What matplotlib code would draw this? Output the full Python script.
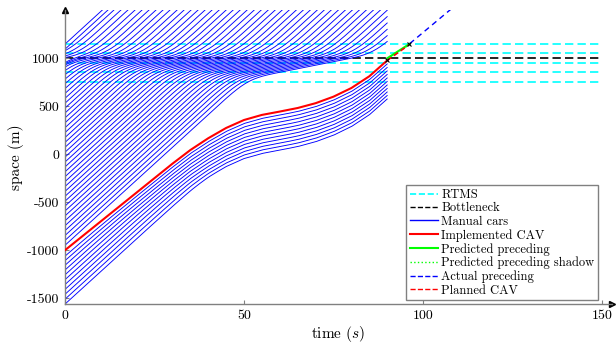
import numpy as np
import matplotlib
matplotlib.use('Agg')
import matplotlib.pyplot as plt
from matplotlib.lines import Line2D

plt.rcParams['font.family'] = 'serif'
plt.rcParams['font.serif'] = ['cmr10', 'DejaVu Serif']
plt.rcParams['mathtext.fontset'] = 'cm'
plt.rcParams['axes.unicode_minus'] = False

# ---- values ----
# implemented CAV (time s, position m)
cav_t = [0, 10, 20, 25, 30, 35, 40, 45, 50, 55, 60, 65, 70, 75, 80, 85, 90]
cav_x = [-1000, -700, -400, -250, -100, 42, 165, 272, 355, 408, 443, 480, 530, 598, 688, 810, 975]

# short segments after t = 90
pred_t = [90, 96.2]
pred_x = [997, 1146]
shadow_t = [90, 96.2]
shadow_x = [990, 1140]
actual_t = [96.3, 108.5]
actual_x = [1150, 1530]
plan_t = [90, 96]
plan_x = [975, 1135]

rtms_x = [750, 850, 950, 1050, 1150]
bottleneck_x = 1000

# manual cars
car_spacing = 51.0     # spacing in free flow at t = 0
n_free_ahead = 38      # free cars between the CAV and the queue
queue_x0 = [965, 978, 991, 1004, 1017, 1030, 1043]   # queued at t = 0
past_x0 = [1092, 1145]                                # already past the bottleneck
n_behind = 11          # cars behind the CAV
v_free = 34.0          # free speed (m/s)
v_zone = 7.3           # speed through the bottleneck
zone = (1000.0, 1045.0)
follow_gap = 36.5      # spacing of the platoon behind the CAV
t_end = 90

# ---- cars ahead of the CAV: Newell car following with a slow zone ----
D_JAM, TAU = 7.0, 1.0
dt = 0.05
lag = int(round(TAU / dt))
t = np.arange(0, t_end + dt / 2, dt)

free_x0 = cav_x[0] + car_spacing * np.arange(1, n_free_ahead + 1)
x = np.sort(np.concatenate([free_x0, queue_x0, past_x0]))[::-1].astype(float)
hist = np.empty((len(t), len(x)))
hist[0] = x
for i in range(1, len(t)):
    vmax = np.where((x >= zone[0]) & (x < zone[1]), v_zone, v_free)
    x_new = x + vmax * dt
    lead = hist[max(i - lag, 0), :-1] - D_JAM
    x_new[1:] = np.minimum(x_new[1:], lead)
    x = np.maximum(x_new, x)
    hist[i] = x


def smooth(y, sigma):
    n = int(4 * sigma)
    k = np.exp(-0.5 * (np.arange(-n, n + 1) / sigma) ** 2)
    k /= k.sum()
    left = y[0] - (y[1] - y[0]) * np.arange(n, 0, -1)
    right = y[-1] + (y[-1] - y[-2]) * np.arange(1, n + 1)
    return np.convolve(np.concatenate([left, y, right]), k, mode='valid')


ahead = [smooth(hist[:, j], 3.5 / dt) for j in range(hist.shape[1])]

# cars behind the CAV: free speed until they close up on the CAV
cav_at = np.interp(t, cav_t, cav_x)
behind = []
for k in range(1, n_behind + 1):
    free = cav_x[0] - k * car_spacing + v_free * t
    follow = cav_at - k * follow_gap
    L = 25.0
    behind.append(-L * np.logaddexp(-free / L, -follow / L))

# ---- plot ----
fig = plt.figure(figsize=(6.16, 3.46), dpi=100)
ax = fig.add_axes([65 / 616, 42 / 346, 547 / 616, 294 / 346])

for y in rtms_x:
    ax.plot([0, 150], [y, y], color='#00ffff', ls=(0, (5, 2.5)), lw=1.2, zorder=1)
ax.plot([0, 150], [bottleneck_x, bottleneck_x], color='k', ls=(0, (5, 2.5)), lw=1.2, zorder=1)

for xa in ahead:
    ax.plot(t, xa, color='#0000ff', lw=0.65, zorder=2)
for xb in behind:
    ax.plot(t, xb, color='#0000ff', lw=0.65, zorder=2)

ax.plot(cav_t, cav_x, color='#ff0000', lw=1.5, zorder=3)
ax.plot(actual_t, actual_x, color='#0000ff', ls=(0, (4, 3)), lw=1.0, zorder=3)
ax.plot(shadow_t, shadow_x, color='#00ff00', ls=':', lw=1.0, zorder=3)
ax.plot(pred_t, pred_x, color='#00ff00', lw=1.5, zorder=4)
ax.plot(plan_t, plan_x, color='#ff0000', ls=(0, (3, 2)), lw=1.2, zorder=5)
ax.plot([plan_t[0], pred_t[1]], [plan_x[0], pred_x[1]], 'kx', ms=3, mew=0.8, zorder=6)

ax.set_xlim(0, 152.8)
ax.set_ylim(-1560, 1500)
ax.set_xticks([0, 50, 100, 150])
ax.set_yticks([-1500, -1000, -500, 0, 500, 1000])
ax.tick_params(direction='in', length=3, color='#808080', labelsize=10, pad=4)
for s in ['top', 'right']:
    ax.spines[s].set_visible(False)
for s in ['left', 'bottom']:
    ax.spines[s].set_color('#808080')
    ax.spines[s].set_linewidth(1.0)
ax.plot(1, 0, '>', color='k', ms=4, transform=ax.transAxes, clip_on=False)
ax.plot(0, 1, '^', color='k', ms=4, transform=ax.transAxes, clip_on=False)

ax.set_xlabel(r'time ($s$)', fontsize=11, labelpad=2)
ax.set_ylabel('space (m)', fontsize=11, labelpad=2)

handles = [
    Line2D([], [], color='#00ffff', ls='--', lw=1.2),
    Line2D([], [], color='k', ls='--', lw=1.0),
    Line2D([], [], color='#0000ff', lw=1.0),
    Line2D([], [], color='#ff0000', lw=1.5),
    Line2D([], [], color='#00ff00', lw=1.5),
    Line2D([], [], color='#00ff00', ls=':', lw=1.0),
    Line2D([], [], color='#0000ff', ls='--', lw=1.0),
    Line2D([], [], color='#ff0000', ls='--', lw=1.0),
]
labels = ['RTMS', 'Bottleneck', 'Manual cars', 'Implemented CAV', 'Predicted preceding',
          'Predicted preceding shadow', 'Actual preceding', 'Planned CAV']
ax.legend(handles, labels, loc='lower right', bbox_to_anchor=(0.975, 0.012), fontsize=9,
          handlelength=2.2, handletextpad=0.3, labelspacing=0.1, borderpad=0.3,
          fancybox=False, edgecolor='#808080', framealpha=1, borderaxespad=0)

fig.savefig('out.png', dpi=100)
